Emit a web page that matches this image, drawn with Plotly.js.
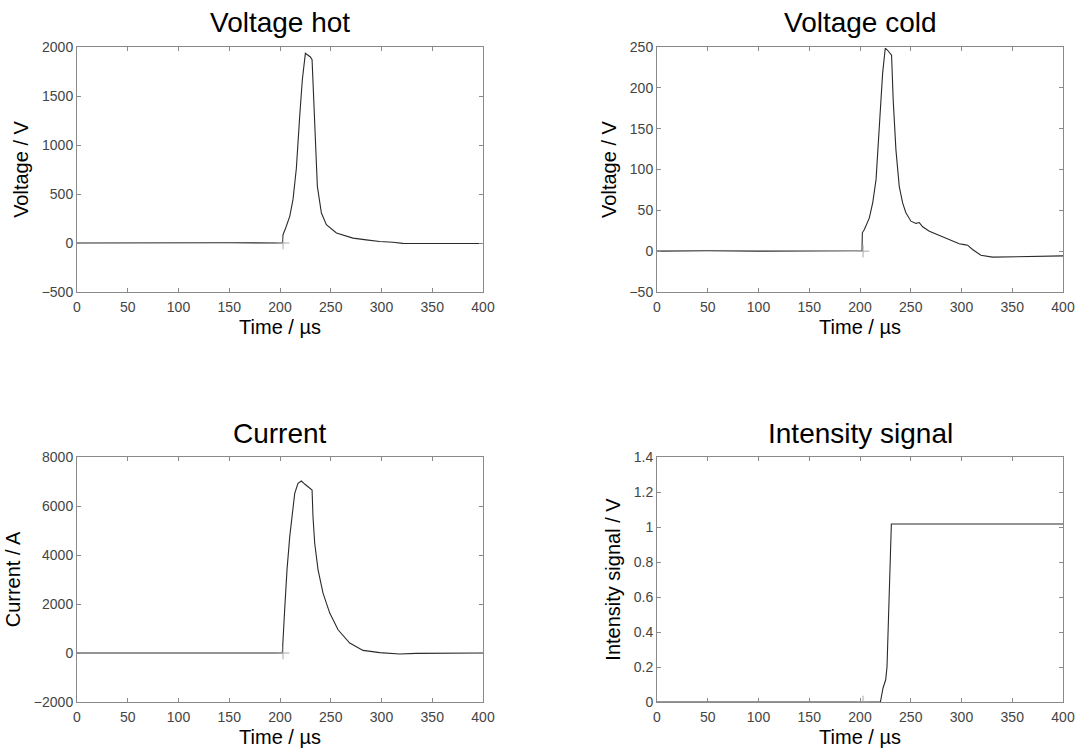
<!DOCTYPE html>
<html>
<head>
<meta charset="utf-8">
<script src="https://cdn.plot.ly/plotly-3.0.1.min.js"></script>
<style>html,body{margin:0;padding:0;background:#fff;}#chart{width:1083px;height:751px;}</style>
</head>
<body>
<div id="chart"></div>
<script>
// Voltage hot
const timeHot = [0, 50, 100, 150, 202.3, 203, 205.6, 209.6, 212.8, 216.1, 219.4, 222, 225.0, 229.9, 231.6, 234.2, 236.8, 240.8, 245.7, 255.6, 271.9, 285, 298.2, 311.3, 321, 350, 400];
const voltHot = [0, 3, 0, 3, 0, 85, 153, 272, 442, 760, 1292, 1666, 1935, 1898, 1870, 1150, 578, 306, 187, 102, 50, 32, 16, 8, -4, -5, -5];

// Voltage cold
const timeCold = [0, 50, 100, 150, 202, 202.3, 204.3, 209.2, 212.5, 215.8, 218.4, 220.7, 222.3, 224.9, 227.2, 231.1, 232.7, 235.4, 238.7, 242, 245.2, 250.2, 255.1, 258.4, 261.7, 268.3, 278.1, 287.9, 297.8, 302.7, 306, 310.9, 319.1, 330.5, 343.6, 376.4, 389.5, 400];
const voltCold = [0, 0.5, 0, 0.5, 0.5, 22.5, 26.5, 40.8, 59, 87.6, 136, 185, 218, 248.5, 246, 240, 185, 124, 79, 59, 47, 36.7, 34, 35, 29.8, 24.4, 19.6, 14.3, 9, 8, 7.3, 2, -4.9, -7.3, -7, -6.5, -5.5, -5.8];

// Current
const timeCur = [0, 50, 100, 150, 202.3, 204.6, 206.9, 209.6, 212.2, 214.5, 217.7, 221.1, 224.3, 229.9, 231.6, 232.5, 234.2, 237.5, 242.4, 249, 257.2, 268.7, 281.8, 298.2, 317.9, 334.3, 400];
const current = [0, 0, 0, 0, 0, 1764, 3393, 4750, 5837, 6517, 6924, 7018, 6896, 6720, 6651, 5564, 4480, 3393, 2444, 1629, 949, 407, 106, 15, -40, -14, 0];

// Intensity signal
const timeInt = [0, 50, 100, 150, 200, 220.1, 222.7, 225.3, 226.6, 228.6, 229.9, 230.9, 300, 400];
const intensity = [0, 0, 0, 0, 0, 0, 0.08, 0.127, 0.2, 0.545, 0.868, 1.017, 1.017, 1.017];

// trigger marker
const trigT = [203];
const trigV = [0];

const titles = ['Voltage hot', 'Voltage cold', 'Current', 'Intensity signal'];
const yTitles = ['Voltage / V', 'Voltage / V', 'Current / A', 'Intensity signal / V'];
const xTitle = 'Time / µs';

const W = 1083, H = 751;
const xd1 = [77 / W, 483 / W], xd2 = [657 / W, 1063 / W];
const ydTop = [(H - 292) / H, (H - 47) / H], ydBot = [(H - 702) / H, (H - 457) / H];

const lineStyle = {color: '#2a2a2a', width: 1.1};
const FONT = 'Liberation Sans, Arial, sans-serif';

function tr(x, y, xa, ya) {
  return {x: x, y: y, xaxis: xa, yaxis: ya, type: 'scatter', mode: 'lines', line: lineStyle, showlegend: false, hoverinfo: 'x+y'};
}
function mk(xa, ya) {
  return {x: trigT, y: trigV, xaxis: xa, yaxis: ya, type: 'scatter', mode: 'markers', showlegend: false,
    marker: {symbol: 'cross-thin', size: 9, line: {color: '#aaaaaa', width: 1}}, hoverinfo: 'skip'};
}

const data = [
  tr(timeHot, voltHot, 'x', 'y'), mk('x', 'y'),
  tr(timeCold, voltCold, 'x2', 'y2'), mk('x2', 'y2'),
  tr(timeCur, current, 'x3', 'y3'), mk('x3', 'y3'),
  tr(timeInt, intensity, 'x4', 'y4'), mk('x4', 'y4')
];

function xax(domain, anchor) {
  return {domain: domain, anchor: anchor, range: [0, 400], dtick: 50, tick0: 0,
    ticks: 'inside', ticklen: 4, tickcolor: '#8a8a8a', showline: true, linecolor: '#8a8a8a', linewidth: 1,
    mirror: 'ticks', showgrid: false, zeroline: false, ticklabelstandoff: 2,
    tickfont: {family: FONT, size: 14, color: '#444'},
    title: {text: xTitle, font: {family: FONT, size: 20, color: '#000'}, standoff: 6}};
}
function yax(domain, anchor, range, dtick, title) {
  return {domain: domain, anchor: anchor, range: range, dtick: dtick, tick0: 0,
    ticks: 'inside', ticklen: 4, tickcolor: '#8a8a8a', showline: true, linecolor: '#8a8a8a', linewidth: 1,
    mirror: 'ticks', showgrid: false, zeroline: false,
    tickfont: {family: FONT, size: 14, color: '#444'},
    title: {text: title, font: {family: FONT, size: 20, color: '#000'}, standoff: 7}};
}

const layout = {
  width: W, height: H,
  margin: {l: 0, r: 0, t: 0, b: 0},
  paper_bgcolor: '#fff', plot_bgcolor: '#fff',
  font: {family: FONT},
  xaxis: xax(xd1, 'y'),
  yaxis: yax(ydTop, 'x', [-500, 2000], 500, yTitles[0]),
  xaxis2: xax(xd2, 'y2'),
  yaxis2: yax(ydTop, 'x2', [-50, 250], 50, yTitles[1]),
  xaxis3: xax(xd1, 'y3'),
  yaxis3: yax(ydBot, 'x3', [-2000, 8000], 2000, yTitles[2]),
  xaxis4: xax(xd2, 'y4'),
  yaxis4: yax(ydBot, 'x4', [0, 1.4], 0.2, yTitles[3]),
  annotations: [
    {text: titles[0], x: (xd1[0] + xd1[1]) / 2, y: (H - 22) / H},
    {text: titles[1], x: (xd2[0] + xd2[1]) / 2, y: (H - 22) / H},
    {text: titles[2], x: (xd1[0] + xd1[1]) / 2, y: (H - 433) / H},
    {text: titles[3], x: (xd2[0] + xd2[1]) / 2, y: (H - 433) / H}
  ].map(a => Object.assign(a, {xref: 'paper', yref: 'paper', xanchor: 'center', yanchor: 'middle', showarrow: false,
    font: {family: FONT, size: 28, color: '#000'}}))
};

Plotly.newPlot('chart', data, layout, {displayModeBar: false, staticPlot: true});
</script>
</body>
</html>
